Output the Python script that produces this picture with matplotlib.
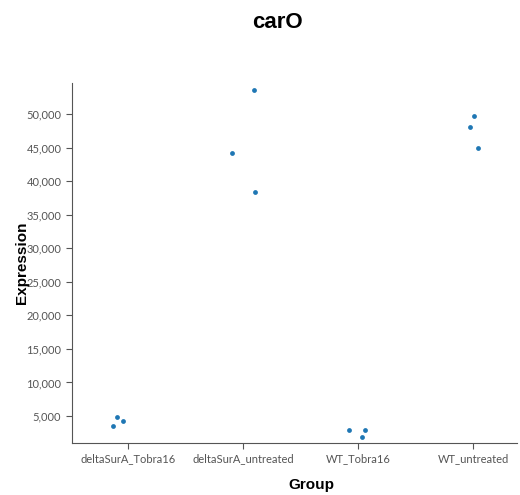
import numpy as np
import matplotlib
matplotlib.use('Agg')
import matplotlib.pyplot as plt
from matplotlib.ticker import FuncFormatter

groups = ['deltaSurA_Tobra16', 'deltaSurA_untreated', 'WT_Tobra16', 'WT_untreated']
# three replicates per group
expression = [
    [3520, 4810, 4260],
    [44180, 53570, 38370],
    [2960, 1830, 2880],
    [48020, 49750, 44980],
]
# horizontal jitter
jitter = [
    [-0.13, -0.096, -0.043],
    [-0.10, 0.096, 0.10],
    [-0.08, 0.035, 0.06],
    [-0.03, 0.01, 0.04],
]

fig = plt.figure(figsize=(5.2, 4.95), dpi=100)
ax = fig.add_axes([0.138, 0.105, 0.856, 0.727])

for i, (vals, jit) in enumerate(zip(expression, jitter)):
    xs = [i + j for j in jit]
    ax.scatter(xs, vals, s=12, color='#1f77b4', zorder=3, linewidths=0)

ax.set_xlim(-0.49, 3.38)
ax.set_ylim(980, 54600)
ax.set_xticks(range(len(groups)))
ax.set_xticklabels(groups, family='Lato', fontsize=8, color='#333333')
ax.set_yticks(np.arange(5000, 50001, 5000))
ax.yaxis.set_major_formatter(FuncFormatter(lambda v, p: f'{int(v):,}'))
for lab in ax.get_yticklabels():
    lab.set_family('Lato')
    lab.set_fontsize(8)
    lab.set_color('#333333')

for s in ['top', 'right']:
    ax.spines[s].set_visible(False)
for s in ['left', 'bottom']:
    ax.spines[s].set_color('#555555')
ax.tick_params(colors='#555555', length=4)

ax.set_xlabel('Group', family='Liberation Sans', fontsize=11, fontweight='bold')
ax.xaxis.set_label_coords(0.539, -0.098)
ax.set_ylabel('Expression', family='Liberation Sans', fontsize=11, fontweight='bold', labelpad=-2)
fig.text(0.533, 0.943, 'carO', family='Liberation Sans', fontsize=16,
         fontweight='bold', ha='center', va='baseline')

fig.savefig('out.png', dpi=100)
